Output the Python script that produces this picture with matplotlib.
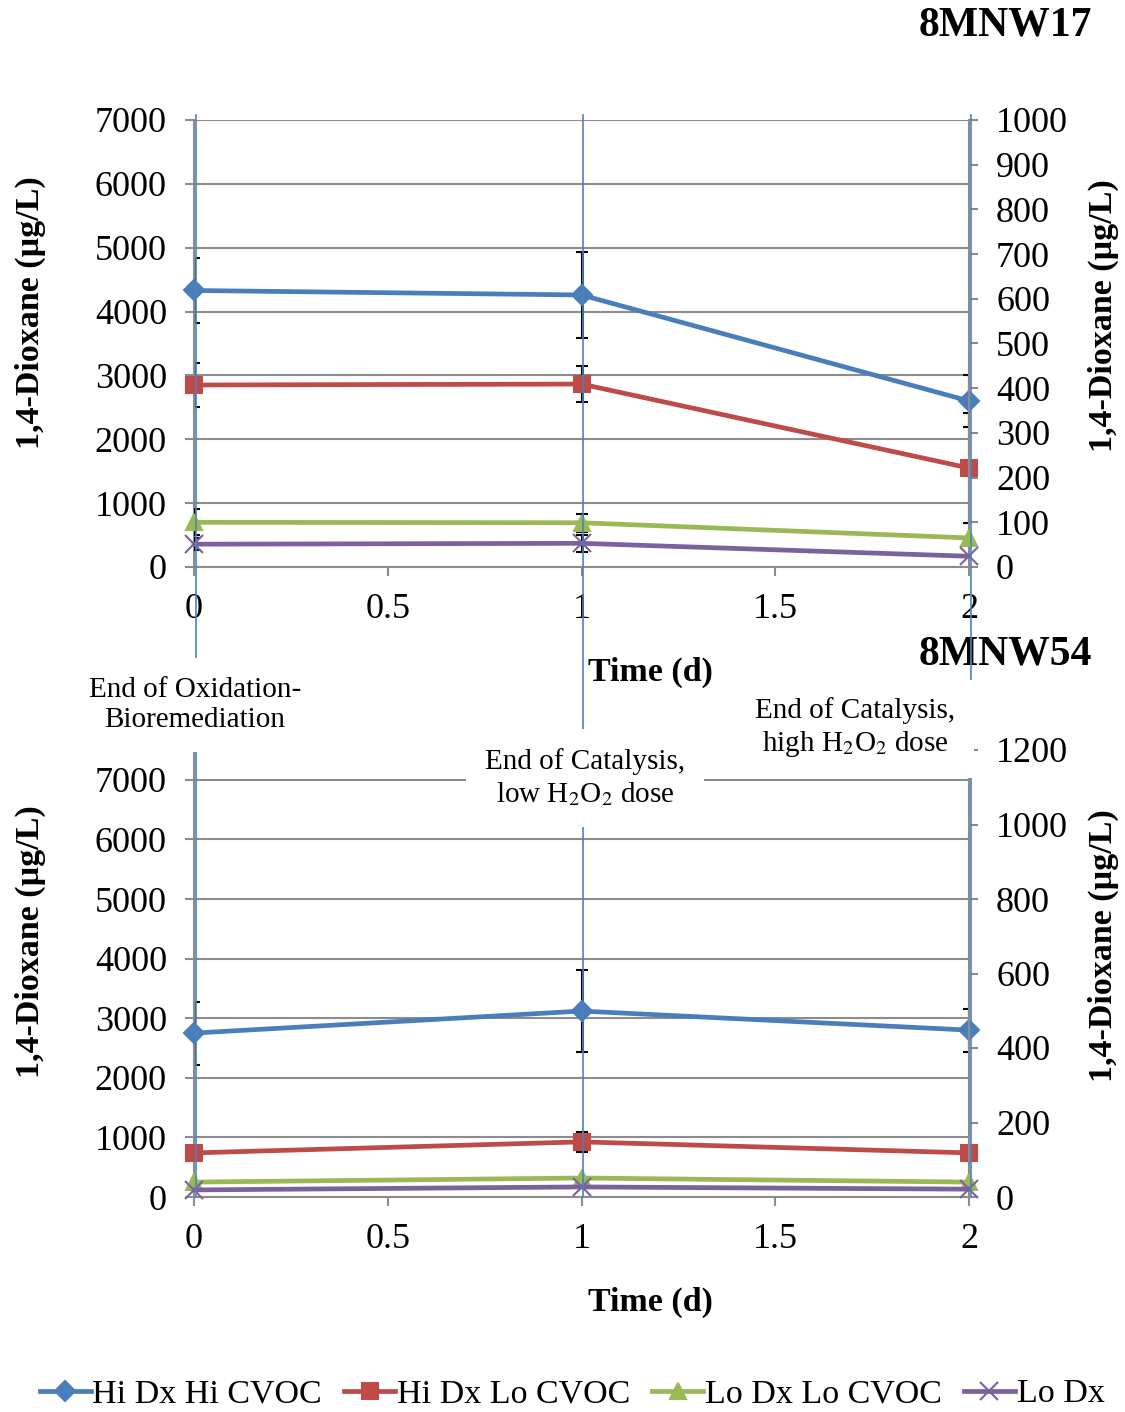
import matplotlib
matplotlib.use("Agg")
import matplotlib.pyplot as plt
from matplotlib.lines import Line2D
from matplotlib import ticker, transforms

plt.rcParams['font.family'] = ['Liberation Serif', 'DejaVu Serif']
plt.rcParams['mathtext.fontset'] = 'stix'

# data
time_d = [0, 1, 2]
series_names = ['Hi Dx Hi CVOC', 'Hi Dx Lo CVOC', 'Lo Dx Lo CVOC', 'Lo Dx']

# 8MNW17 (Hi Dx on left axis, Lo Dx on right axis)
w17_hi_hi = [4330, 4260, 2600]
w17_hi_hi_err = [515, 680, 410]
w17_hi_lo = [2850, 2865, 1550]
w17_hi_lo_err = [345, 275, 860]
w17_lo_lo = [100, 99, 65]
w17_lo_lo_err = [29, 20, 0]
w17_lo = [51, 53, 24]
w17_lo_err = [13, 19, 0]

# 8MNW54
w54_hi_hi = [2750, 3120, 2800]
w54_hi_hi_err = [530, 690, 360]
w54_hi_lo = [740, 925, 740]
w54_hi_lo_err = [90, 170, 80]
w54_lo_lo = [40, 51, 40]
w54_lo_lo_err = [0, 0, 0]
w54_lo = [19, 27, 21]
w54_lo_err = [0, 0, 0]

event_times = [0, 1, 2]
event_labels = ['End of Oxidation-\nBioremediation',
                'End of Catalysis,\nlow H$_2$O$_2$ dose',
                'End of Catalysis,\nhigh H$_2$O$_2$ dose']

colors = ['#4A7EBB', '#BE4B48', '#98B954', '#7D60A0']
markers = ['D', 's', '^', 'x']
msizes = [10, 11, 12, 13]
grid_col = '#8C8C8C'

W, H = 1125, 1412
fig = plt.figure(figsize=(W / 100, H / 100), dpi=100)


def px(x, y):
    return x / W, 1 - y / H


def setup_panel(ax, left_data, right_data, left_max, right_max, right_step):
    ax2 = ax.twinx()
    handles = []
    for i, (vals, err) in enumerate(left_data):
        ax.errorbar(time_d, vals, yerr=err, fmt='none', ecolor='black',
                    elinewidth=2.2, capsize=4, capthick=1.5, zorder=2)
        h, = ax.plot(time_d, vals, color=colors[i], lw=3.4, marker=markers[i],
                     ms=msizes[i], mew=1.5, clip_on=False, zorder=3)
        handles.append(h)
    for j, (vals, err) in enumerate(right_data):
        i = j + 2
        ax2.errorbar(time_d, vals, yerr=err, fmt='none', ecolor='black',
                     elinewidth=2.2, capsize=4, capthick=1.5, zorder=2)
        h, = ax2.plot(time_d, vals, color=colors[i], lw=3.4, marker=markers[i],
                      ms=msizes[i], mew=1.5, clip_on=False, zorder=3)
        handles.append(h)

    ax.set_xlim(0, 2)
    ax.set_ylim(0, left_max)
    ax.set_yticks(range(0, 7001, 1000))
    ax2.set_ylim(0, right_max)
    ax2.set_yticks(range(0, right_max + 1, right_step))
    ax.set_xticks([0, 0.5, 1, 1.5, 2])
    ax.xaxis.set_major_formatter(ticker.FuncFormatter(lambda v, p: '%g' % v))

    ax.yaxis.grid(True, color=grid_col, lw=1.5)
    ax.set_axisbelow(True)
    for a in (ax, ax2):
        a.spines['top'].set_visible(False)
        for s in ('left', 'right', 'bottom'):
            a.spines[s].set_color(grid_col)
            a.spines[s].set_linewidth(1.5)
        a.tick_params(direction='out', length=6.5, width=1.5, color=grid_col,
                      labelsize=26, pad=13)
    ax2.spines['left'].set_visible(False)
    ax2.spines['bottom'].set_visible(False)
    ax.tick_params(axis='x', pad=12)
    return handles


handles = setup_panel(
    fig.add_axes([*px(194, 567), 775 / W, 447 / H]),
    [(w17_hi_hi, w17_hi_hi_err), (w17_hi_lo, w17_hi_lo_err)],
    [(w17_lo_lo, w17_lo_lo_err), (w17_lo, w17_lo_err)],
    7000, 1000, 100)
ax_bot = fig.add_axes([*px(194, 1197), 775 / W, 447 / H])
setup_panel(
    ax_bot,
    [(w54_hi_hi, w54_hi_hi_err), (w54_hi_lo, w54_hi_lo_err)],
    [(w54_lo_lo, w54_lo_lo_err), (w54_lo, w54_lo_err)],
    7500, 1200, 200)

# event lines run through both panels, slightly right of the axis so error bars show
trans = transforms.blended_transform_factory(ax_bot.transData, fig.transFigure)
shift = transforms.ScaledTranslation(1.5 / 100, 0, fig.dpi_scale_trans)
for t in event_times:
    fig.add_artist(Line2D([t, t], [1 - 1197 / H, 1 - 115 / H],
                          transform=trans + shift,
                          color='#4F81BD', lw=1.2, zorder=4))

label_pos = [(195, 705), (585, 778), (855, 728)]
for (x, y), lab in zip(label_pos, event_labels):
    fig.text(*px(x, y), lab, ha='center', va='center', fontsize=21,
             linespacing=1.2, zorder=5,
             bbox=dict(boxstyle='square,pad=0.65', fc='white', ec='none'))

# titles and axis labels
fig.text(*px(1092, 25), '8MNW17', ha='right', va='center', fontsize=30, fontweight='bold')
fig.text(*px(1092, 655), '8MNW54', ha='right', va='center', fontsize=30, fontweight='bold')
for yc, yr, ty in [(313, 316, 672), (942, 946, 1302)]:
    fig.text(*px(30, yc), '1,4-Dioxane (µg/L)', rotation=90, ha='center',
             va='center', fontsize=24.5, fontweight='bold')
    fig.text(*px(1103, yr), '1,4-Dioxane (µg/L)', rotation=90, ha='center',
             va='center', fontsize=24.5, fontweight='bold')
    fig.text(*px(650, ty), 'Time (d)', ha='center', va='center',
             fontsize=24.5, fontweight='bold')

fig.legend(handles, series_names, loc='center', bbox_to_anchor=px(572, 1394),
           ncol=4, frameon=False, fontsize=24.5, handlelength=1.5,
           handletextpad=0.05, columnspacing=0.65)

fig.savefig('out.png', dpi=100)
